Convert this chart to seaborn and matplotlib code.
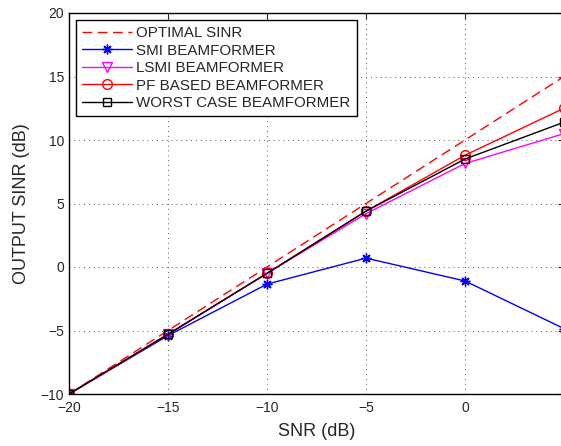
import pandas as pd
import matplotlib.pyplot as plt
import seaborn as sns

snr = [-20, -15, -10, -5, 0, 5]
optimal = [-10, -5, 0, 5, 10, 15]
smi = [-10, -5.4, -1.35, 0.7, -1.1, -4.85]
lsmi = [-10, -5.3, -0.5, 4.2, 8.15, 10.5]
pf = [-10, -5.3, -0.5, 4.4, 8.8, 12.5]
worst = [-10, -5.3, -0.5, 4.4, 8.5, 11.4]

labels = ['OPTIMAL SINR', 'SMI BEAMFORMER', 'LSMI BEAMFORMER',
          'PF BASED BEAMFORMER', 'WORST CASE BEAMFORMER']
series = [optimal, smi, lsmi, pf, worst]

sns.set_style('white')
plt.rcParams['font.family'] = ['Liberation Sans', 'DejaVu Sans']

fig = plt.figure(figsize=(5.61, 4.46), dpi=100)
ax = fig.add_axes([69 / 561, 52 / 446, 495 / 561, 381 / 446])

styles = [
    dict(color='red', dashes=(7, 4), marker=None),
    dict(color='blue', marker=(8, 2, 0), markersize=7),
    dict(color='magenta', marker='v', markersize=7, markerfacecolor='none'),
    dict(color='red', marker='o', markersize=7, markerfacecolor='none'),
    dict(color='black', marker='s', markersize=6, markerfacecolor='none'),
]

for lab, vals, st in zip(labels, series, styles):
    df = pd.DataFrame({'snr': snr, 'sinr': vals})
    sns.lineplot(data=df, x='snr', y='sinr', ax=ax, label=lab, linewidth=1.0,
                 markeredgecolor=st['color'], markeredgewidth=1.0, **st)

ax.set_xlim(-20, 5)
ax.set_ylim(-10, 20)
ax.set_xticks([-20, -15, -10, -5, 0, 5])
ax.set_yticks([-10, -5, 0, 5, 10, 15, 20])
ax.tick_params(direction='in', labelsize=10, length=4, top=True, right=True)
ax.tick_params(axis='x', pad=5)
ax.grid(True, linestyle=(0, (1, 4)), color='#555555', linewidth=0.7)
for sp in ax.spines.values():
    sp.set_color('black')
    sp.set_linewidth(1.0)

ax.set_xlabel('SNR (dB)', fontsize=13, labelpad=6)
ax.set_ylabel('OUTPUT SINR (dB)', fontsize=13, labelpad=8)

leg = ax.legend(loc='upper left', fontsize=10.9, frameon=True, fancybox=False,
                edgecolor='black', framealpha=1, borderpad=0.4, labelspacing=0.24,
                handlelength=3.3, handletextpad=0.3, borderaxespad=0.45)
leg.get_frame().set_linewidth(1.0)

fig.savefig('out.png', dpi=100)
